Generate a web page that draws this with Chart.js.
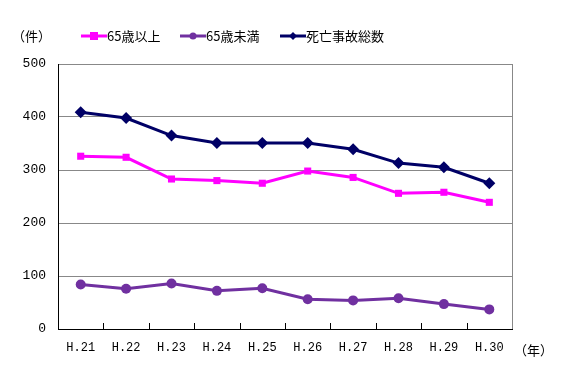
<!DOCTYPE html>
<html><head><meta charset="utf-8">
<script src="https://cdn.jsdelivr.net/npm/chart.js@4/dist/chart.umd.min.js"></script>
<style>html,body{margin:0;padding:0;background:#fff;}#wrap{width:567px;height:378px;position:relative;}</style>
</head><body><div id="wrap"><canvas id="c" width="567" height="378"></canvas></div>
<script>
const categories = ['H.21','H.22','H.23','H.24','H.25','H.26','H.27','H.28','H.29','H.30'];
const over65 = [326, 324, 283, 280, 275, 298, 286, 256, 258, 239];
const under65 = [84, 76, 86, 72, 77, 56, 54, 58, 47, 37];
const total = [409, 398, 365, 351, 351, 351, 339, 313, 305, 275];
const seriesNames = ['65歳以上', '65歳未満', '死亡事故総数'];
const yTicks = [0, 100, 200, 300, 400, 500];
const FONT = "'Noto Sans CJK JP', sans-serif";
const MONO = "'Liberation Mono', 'DejaVu Sans Mono', monospace";

const extras = {
  id: 'extras',
  afterDraw(chart) {
    const ctx = chart.ctx, a = chart.chartArea, xs = chart.scales.x;
    ctx.save();
    ctx.strokeStyle = '#000'; ctx.lineWidth = 1;
    for (let i = 1; i < categories.length; i++) {
      const x = Math.round((xs.getPixelForTick(i - 1) + xs.getPixelForTick(i)) / 2) + 0.5;
      ctx.beginPath(); ctx.moveTo(x, a.bottom); ctx.lineTo(x, a.bottom - 6); ctx.stroke();
    }
    ctx.fillStyle = '#000'; ctx.font = '13px ' + FONT; ctx.textBaseline = 'middle';
    ctx.textAlign = 'left';
    ctx.fillText('（件）', 12, 36);
    ctx.fillText('（年）', 514, 350);
    const starts = [81, 180, 280];
    chart.data.datasets.forEach((ds, i) => {
      const x0 = starts[i], y = 36;
      ctx.strokeStyle = ds.borderColor; ctx.lineWidth = 3;
      ctx.beginPath(); ctx.moveTo(x0, y); ctx.lineTo(x0 + 26, y); ctx.stroke();
      ctx.fillStyle = ds.borderColor;
      const cx = x0 + 13;
      if (ds.pointStyle === 'rect') ctx.fillRect(cx - 4, y - 4, 8, 8);
      else if (ds.pointStyle === 'circle') { ctx.beginPath(); ctx.arc(cx, y, 3.5, 0, Math.PI * 2); ctx.fill(); }
      else { ctx.beginPath(); ctx.moveTo(cx, y - 4); ctx.lineTo(cx + 4, y); ctx.lineTo(cx, y + 4); ctx.lineTo(cx - 4, y); ctx.closePath(); ctx.fill(); }
      ctx.fillStyle = '#000'; ctx.font = '13px ' + FONT; ctx.textAlign = 'left';
      ctx.fillText(ds.label, x0 + 26, y);
    });
    ctx.restore();
  }
};

new Chart(document.getElementById('c'), {
  type: 'line',
  data: {
    labels: categories,
    datasets: [
      { label: seriesNames[0], data: over65, borderColor: '#FF00FF', backgroundColor: '#FF00FF', borderWidth: 3, pointStyle: 'rect', pointRadius: 5, pointBorderWidth: 0, tension: 0 },
      { label: seriesNames[1], data: under65, borderColor: '#7030A0', backgroundColor: '#7030A0', borderWidth: 3, pointStyle: 'circle', pointRadius: 5, pointBorderWidth: 0, tension: 0 },
      { label: seriesNames[2], data: total, borderColor: '#000066', backgroundColor: '#000066', borderWidth: 3, pointStyle: 'rectRot', pointRadius: 6, pointBorderWidth: 0, tension: 0 }
    ]
  },
  options: {
    responsive: false, animation: false, devicePixelRatio: 1,
    layout: { padding: { left: 0, right: 55, top: 64, bottom: 0 } },
    plugins: { legend: { display: false }, tooltip: { enabled: false } },
    scales: {
      x: {
        offset: true,
        grid: { display: false, offset: true },
        border: { color: '#000', width: 1 },
        ticks: { color: '#000', font: { family: MONO, size: 12 }, padding: 4, maxRotation: 0 },
        afterFit(s) { s.height = 49; }
      },
      y: {
        min: 0, max: 500,
        afterBuildTicks(s) { s.ticks = yTicks.map(v => ({ value: v })); },
        grid: { color: '#888', drawTicks: false },
        border: { color: '#000', width: 1 },
        ticks: { color: '#000', font: { family: MONO, size: 13 }, padding: 12 },
        afterFit(s) { s.width = 58; }
      }
    }
  },
  plugins: [extras, {
    id: 'rightBorder',
    beforeDatasetsDraw(chart) {
      const ctx = chart.ctx, a = chart.chartArea;
      ctx.save(); ctx.strokeStyle = '#888'; ctx.lineWidth = 1;
      ctx.beginPath(); ctx.moveTo(a.right + 0.5, a.top); ctx.lineTo(a.right + 0.5, a.bottom); ctx.stroke();
      ctx.restore();
    }
  }]
});
</script></body></html>
